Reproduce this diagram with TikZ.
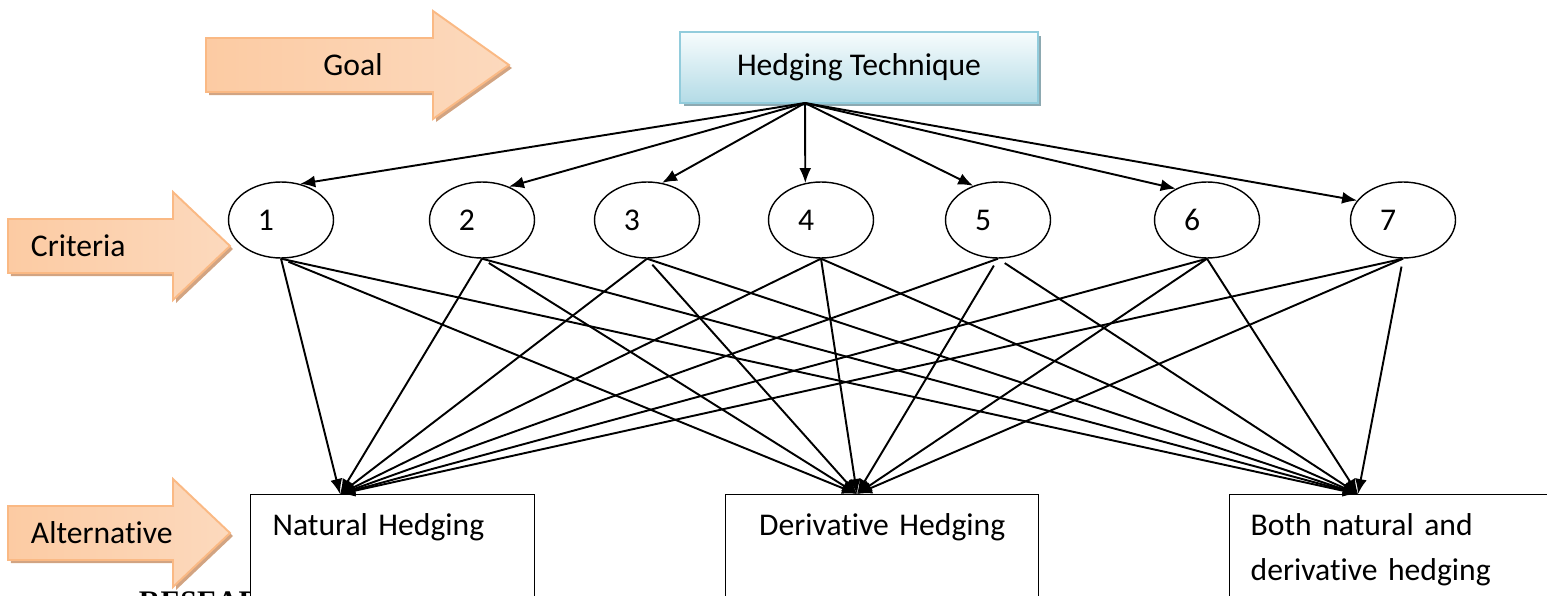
\documentclass[tikz,border=0pt]{standalone}
\usepackage{fontspec}
\setmainfont{Carlito}[Ligatures=NoCommon]
\newfontfamily\headserif{Liberation Serif}
\usetikzlibrary{arrows.meta,shapes.geometric,shadows}

\definecolor{peachline}{HTML}{FAB984}
\definecolor{peachdark}{HTML}{FCCBA3}
\definecolor{peachlight}{HTML}{FDEBDD}
\definecolor{peachmid}{HTML}{FCD9BD}
\definecolor{peachshadow}{HTML}{D2A482}
\definecolor{aqualine}{HTML}{92CCDC}
\definecolor{aquatop}{HTML}{F7FCFD}
\definecolor{aquabottom}{HTML}{B3DBE6}
\definecolor{aquashadow}{HTML}{8DA9B1}

\begin{document}
\begin{tikzpicture}[x=0.02cm,y=-0.02cm,->,>={Latex[length=0.3cm,width=0.24cm]},line width=1.1pt,font=\fontsize{18}{25.5}\selectfont]
		\tikzstyle{banner}=[-,draw=peachline,line width=1.1pt,left color=peachdark,middle color=peachlight,right color=peachmid]
		\tikzstyle{goalbox}=[rectangle,draw=aqualine,line width=1.1pt,top color=aquatop,bottom color=aquabottom,minimum width=7.16cm,minimum height=1.42cm,drop shadow={shadow xshift=0.07cm,shadow yshift=-0.07cm,fill=aquashadow,opacity=1}]
		\tikzstyle{crit}=[ellipse,draw,line width=0.8pt,minimum width=2.1cm,minimum height=1.52cm,inner sep=0pt]
		\tikzstyle{altbox}=[rectangle,draw,fill=white,line width=0.8pt,anchor=north west,inner ysep=0pt,inner xsep=0.44cm,text height=0.82cm,text depth=2.4cm]
		\tikzstyle{gapped}=[shorten <=0.16cm]
		\useasboundingbox (0,0) rectangle (1547,595);
		% level arrows on the left
		\foreach \bx/\hx/\tx/\cy in {206/433/509/65,8/173/230/246,8/173/230/533}{
			\fill[peachshadow,xshift=0.06cm,yshift=-0.06cm] (\bx,\cy-27) -- (\hx,\cy-27) -- (\hx,\cy-54) -- (\tx,\cy) -- (\hx,\cy+54) -- (\hx,\cy+27) -- (\bx,\cy+27) -- cycle;
			\draw[banner] (\bx,\cy-27) -- (\hx,\cy-27) -- (\hx,\cy-54) -- (\tx,\cy) -- (\hx,\cy+54) -- (\hx,\cy+27) -- (\bx,\cy+27) -- cycle;
		}
		\node (goal) at (353,65) {Goal};
		\node[anchor=west,inner sep=0pt] (criteria) at (30,246) {Criteria};
		\node[anchor=west,inner sep=0pt] (alternative) at (30,533) {Alternative};
		% goal
		\node[goalbox] (HT) at (859,67.5) {Hedging Technique};
		\coordinate (apex) at (805,103);
		% criteria
		\foreach \i/\cx in {1/281,2/482,3/647,4/821,5/998,6/1207,7/1403}
			\node[crit] (E\i) at (\cx,220) {\hspace*{-0.6cm}\i};
		% alternatives
		\node[anchor=base west,inner sep=0pt,font=\headserif\bfseries\fontsize{17}{18}\selectfont] (research) at (138,611) {RESEARCH};
		\node[altbox,text width=4.8cm,align=left] (NH) at (250,494) {Natural Hedging};
		\node[altbox,text width=5.38cm,align=center] (DH) at (725,494) {Derivative Hedging};
		\node[altbox,text width=5.8cm,align=left,inner xsep=0.42cm] (BH) at (1229,494) {Both natural and\\derivative hedging};
		\coordinate (nat) at (340,494);
		\coordinate (der) at (857,494);
		\coordinate (both) at (1358,494);
		\path (apex) edge (E1.62)
			edge (E2.51)
			edge (E3.68)
			edge (E4.113)
			edge (E5.126)
			edge (E6.135)
			edge (E7.157);
		\path (E1.south) edge (nat)
			edge[gapped] (der)
			edge (both)
		(E2.south) edge (nat)
			edge[gapped] (der)
			edge (both)
		(E3.south) edge (nat)
			edge[gapped] (der)
			edge (both)
		(E4.south) edge (nat)
			edge (der)
			edge (both)
		(E5.south) edge (nat)
			edge[gapped] (der)
			edge[gapped] (both)
		(E6.south) edge (nat)
			edge (der)
			edge (both)
		(E7.south) edge (nat)
			edge (der)
			edge[gapped] (both);
\end{tikzpicture}
\end{document}
